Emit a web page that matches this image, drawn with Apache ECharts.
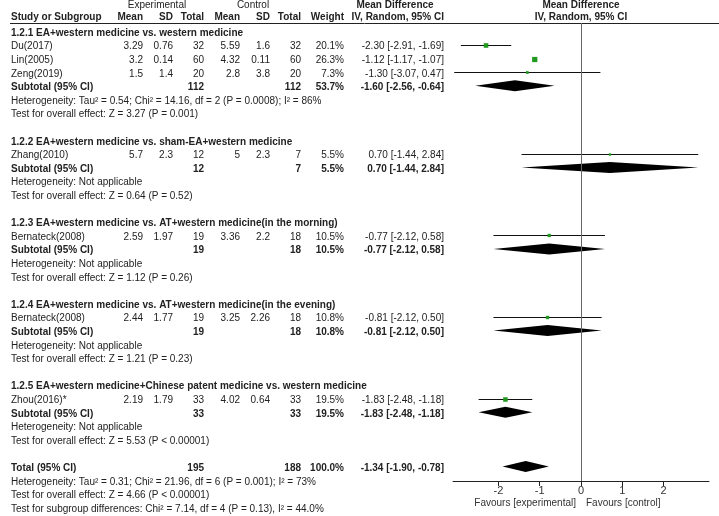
<!DOCTYPE html>
<html><head><meta charset="utf-8">
<script src="https://cdn.jsdelivr.net/npm/echarts@6/dist/echarts.min.js"></script>
<style>html,body{margin:0;padding:0;background:#fff}#c{width:719px;height:516px}</style>
</head><body><div id="c"></div>
<script>
// ---------- data ----------
const studies   = ['Du(2017)','Lin(2005)','Zeng(2019)','Zhang(2010)','Bernateck(2008)','Bernateck(2008)','Zhou(2016)*'];
const studyGroup= [0,0,0,1,2,3,4];
const expMean   = [3.29,3.2,1.5,5.7,2.59,2.44,2.19];
const expSD     = [0.76,0.14,1.4,2.3,1.97,1.77,1.79];
const expN      = [32,60,20,12,19,19,33];
const ctrlMean  = [5.59,4.32,2.8,5,3.36,3.25,4.02];
const ctrlSD    = [1.6,0.11,3.8,2.3,2.2,2.26,0.64];
const ctrlN     = [32,60,20,7,18,18,33];
const weight    = [20.1,26.3,7.3,5.5,10.5,10.8,19.5];
const md        = [-2.30,-1.12,-1.30,0.70,-0.77,-0.81,-1.83];
const ciLo      = [-2.91,-1.17,-3.07,-1.44,-2.12,-2.12,-2.48];
const ciHi      = [-1.69,-1.07,0.47,2.84,0.58,0.50,-1.18];

const groupTitles = [
  '1.2.1 EA+western medicine vs. western medicine',
  '1.2.2 EA+western medicine vs. sham-EA+western medicine',
  '1.2.3 EA+western medicine vs. AT+western medicine(in the morning)',
  '1.2.4 EA+western medicine vs. AT+western medicine(in the evening)',
  '1.2.5 EA+western medicine+Chinese patent medicine vs. western medicine'];
const subExpN   = [112,12,19,19,33];
const subCtrlN  = [112,7,18,18,33];
const subWeight = [53.7,5.5,10.5,10.8,19.5];
const subMD     = [-1.60,0.70,-0.77,-0.81,-1.83];
const subLo     = [-2.56,-1.44,-2.12,-2.12,-2.48];
const subHi     = [-0.64,2.84,0.58,0.50,-1.18];
const groupHet  = [
  'Heterogeneity: Tau\u00b2 = 0.54; Chi\u00b2 = 14.16, df = 2 (P = 0.0008); I\u00b2 = 86%',
  'Heterogeneity: Not applicable','Heterogeneity: Not applicable',
  'Heterogeneity: Not applicable','Heterogeneity: Not applicable'];
const groupTest = [
  'Test for overall effect: Z = 3.27 (P = 0.001)',
  'Test for overall effect: Z = 0.64 (P = 0.52)',
  'Test for overall effect: Z = 1.12 (P = 0.26)',
  'Test for overall effect: Z = 1.21 (P = 0.23)',
  'Test for overall effect: Z = 5.53 (P < 0.00001)'];

const totalExpN = 195, totalCtrlN = 188, totalWeight = 100.0;
const totalMD = -1.34, totalLo = -1.90, totalHi = -0.78;
const totalHet  = 'Heterogeneity: Tau\u00b2 = 0.31; Chi\u00b2 = 21.96, df = 6 (P = 0.001); I\u00b2 = 73%';
const totalTest = 'Test for overall effect: Z = 4.66 (P < 0.00001)';
const subgroupTest = 'Test for subgroup differences: Chi\u00b2 = 7.14, df = 4 (P = 0.13), I\u00b2 = 44.0%';
const xTicks = [-2,-1,0,1,2];

// ---------- layout ----------
const COL = {study:11, eMean:143, eSD:173, eN:204, cMean:240, cSD:270, cN:301, weight:344, md:444, plot:581};
const HDR1 = -2.03, HDR2 = -1.15;
const FONT = '"Liberation Sans", Arial, sans-serif';
const cells = [];
function cell(x, r, t, a, b){ cells.push({x, r, t:String(t), a:a||'right', b:!!b}); }
const fmtCI = (m,l,h) => m.toFixed(2)+' ['+l.toFixed(2)+', '+h.toFixed(2)+']';

// header
cell(157,HDR1,'Experimental','center',false);
cell(253,HDR1,'Control','center',false);
cell(395,HDR1,'Mean Difference','center',true);
cell(COL.plot,HDR1,'Mean Difference','center',true);
cell(COL.study,HDR2,'Study or Subgroup','left',true);
cell(COL.eMean,HDR2,'Mean','right',true);
cell(COL.eSD,HDR2,'SD','right',true);
cell(COL.eN,HDR2,'Total','right',true);
cell(COL.cMean,HDR2,'Mean','right',true);
cell(COL.cSD,HDR2,'SD','right',true);
cell(COL.cN,HDR2,'Total','right',true);
cell(COL.weight,HDR2,'Weight','right',true);
cell(COL.md,HDR2,'IV, Random, 95% CI','right',true);
cell(COL.plot,HDR2,'IV, Random, 95% CI','center',true);

const studyMarks = [];   // [md, row, lo, hi, weight]
const diamonds = [];     // [md, row, lo, hi]
let r = 0;
groupTitles.forEach((title, g) => {
  cell(COL.study, r, title, 'left', true); r++;
  studies.forEach((s, i) => {
    if (studyGroup[i] !== g) return;
    cell(COL.study, r, s, 'left');
    cell(COL.eMean, r, expMean[i]); cell(COL.eSD, r, expSD[i]); cell(COL.eN, r, expN[i]);
    cell(COL.cMean, r, ctrlMean[i]); cell(COL.cSD, r, ctrlSD[i]); cell(COL.cN, r, ctrlN[i]);
    cell(COL.weight, r, weight[i].toFixed(1)+'%');
    cell(COL.md, r, fmtCI(md[i], ciLo[i], ciHi[i]));
    studyMarks.push([md[i], r, ciLo[i], ciHi[i], weight[i]]);
    r++;
  });
  cell(COL.study, r, 'Subtotal (95% CI)', 'left', true);
  cell(COL.eN, r, subExpN[g], 'right', true);
  cell(COL.cN, r, subCtrlN[g], 'right', true);
  cell(COL.weight, r, subWeight[g].toFixed(1)+'%', 'right', true);
  cell(COL.md, r, fmtCI(subMD[g], subLo[g], subHi[g]), 'right', true);
  diamonds.push([subMD[g], r, subLo[g], subHi[g]]);
  r++;
  cell(COL.study, r, groupHet[g], 'left'); r++;
  cell(COL.study, r, groupTest[g], 'left'); r++;
  r++;
});
cell(COL.study, r, 'Total (95% CI)', 'left', true);
cell(COL.eN, r, totalExpN, 'right', true);
cell(COL.cN, r, totalCtrlN, 'right', true);
cell(COL.weight, r, totalWeight.toFixed(1)+'%', 'right', true);
cell(COL.md, r, fmtCI(totalMD, totalLo, totalHi), 'right', true);
diamonds.push([totalMD, r, totalLo, totalHi]);
r++;
cell(COL.study, r, totalHet, 'left'); r++;
cell(COL.study, r, totalTest, 'left'); r++;
cell(COL.study, r, subgroupTest, 'left'); r++;

// row geometry: row 0 centred at y=33, 13.6 px per row
const ROW0 = 33, ROWH = 13.6, H = 516;
const textMin = -ROW0/ROWH, textMax = (H-ROW0)/ROWH;
const MARK_SHIFT = 1.6; // marks sit slightly above text centre
const plotTop = 23, plotBottomY = 481;
const plotMin = (plotTop - ROW0 + MARK_SHIFT)/ROWH, plotMax = (plotBottomY - ROW0 + MARK_SHIFT)/ROWH;

const chart = echarts.init(document.getElementById('c'), null, {renderer:'canvas'});
chart.setOption({
  animation: false,
  backgroundColor: '#fff',
  grid: [
    {left:0, top:0, width:719, height:516},
    {left:453, top:plotTop, width:256, height:plotBottomY-plotTop}
  ],
  xAxis: [
    {gridIndex:0, type:'value', min:0, max:719, show:false},
    {gridIndex:1, type:'value', min:-3.1, max:3.1,
     axisLine:{show:true, onZero:false, lineStyle:{color:'#222', width:1}},
     axisTick:{show:true, length:5, customValues:xTicks, lineStyle:{color:'#222'}},
     axisLabel:{show:true, customValues:xTicks, fontSize:11, color:'#333', margin:4, fontFamily:FONT},
     splitLine:{show:false}}
  ],
  yAxis: [
    {gridIndex:0, type:'value', min:textMin, max:textMax, inverse:true, show:false},
    {gridIndex:1, type:'value', min:plotMin, max:plotMax, inverse:true, show:false}
  ],
  graphic: [
    {type:'line', shape:{x1:10, y1:23.5, x2:719, y2:23.5}, style:{stroke:'#222', lineWidth:1}},
    {type:'text', x:576, y:503, style:{text:'Favours [experimental]', align:'right', verticalAlign:'middle', font:'10px '+FONT, fill:'#333'}},
    {type:'text', x:586, y:503, style:{text:'Favours [control]', align:'left', verticalAlign:'middle', font:'10px '+FONT, fill:'#333'}}
  ],
  series: [
    {
      type:'custom', xAxisIndex:0, yAxisIndex:0, silent:true, clip:false,
      data: cells.map(c => [c.x, c.r]),
      renderItem: (params, api) => {
        const c = cells[params.dataIndex];
        const p = api.coord([c.x, c.r]);
        return {type:'text', x:p[0], y:p[1], style:{
          text:c.t, align:c.a, verticalAlign:'middle',
          font:(c.b?'bold ':'')+'10px '+FONT, fill:'#222'}};
      }
    },
    {
      type:'custom', xAxisIndex:1, yAxisIndex:1, silent:true, clip:false,
      data: studyMarks,
      renderItem: (params, api) => {
        const pm = api.coord([api.value(0), api.value(1)]);
        const pl = api.coord([api.value(2), api.value(1)]);
        const ph = api.coord([api.value(3), api.value(1)]);
        const s = Math.max(2.4, Math.sqrt(api.value(4)) * 1.02);
        const y = Math.round(pm[1]) + 0.5;
        return {type:'group', children:[
          {type:'line', shape:{x1:pl[0], y1:y, x2:ph[0], y2:y}, style:{stroke:'#111', lineWidth:1}},
          {type:'rect', shape:{x:pm[0]-s/2, y:y-s/2, width:s, height:s}, style:{fill:'#1f9a1f'}}
        ]};
      },
      markLine: {
        silent:true, symbol:['none','none'], label:{show:false},
        lineStyle:{color:'#666', width:1, type:'solid'},
        data:[{xAxis:0}]
      }
    },
    {
      type:'custom', xAxisIndex:1, yAxisIndex:1, silent:true, clip:false,
      data: diamonds,
      renderItem: (params, api) => {
        const pm = api.coord([api.value(0), api.value(1)]);
        const pl = api.coord([api.value(2), api.value(1)]);
        const ph = api.coord([api.value(3), api.value(1)]);
        const h = 5.5;
        return {type:'polygon', shape:{points:[[pl[0],pm[1]],[pm[0],pm[1]-h],[ph[0],pm[1]],[pm[0],pm[1]+h]]},
          style:{fill:'#000'}};
      }
    }
  ]
});
</script></body></html>
